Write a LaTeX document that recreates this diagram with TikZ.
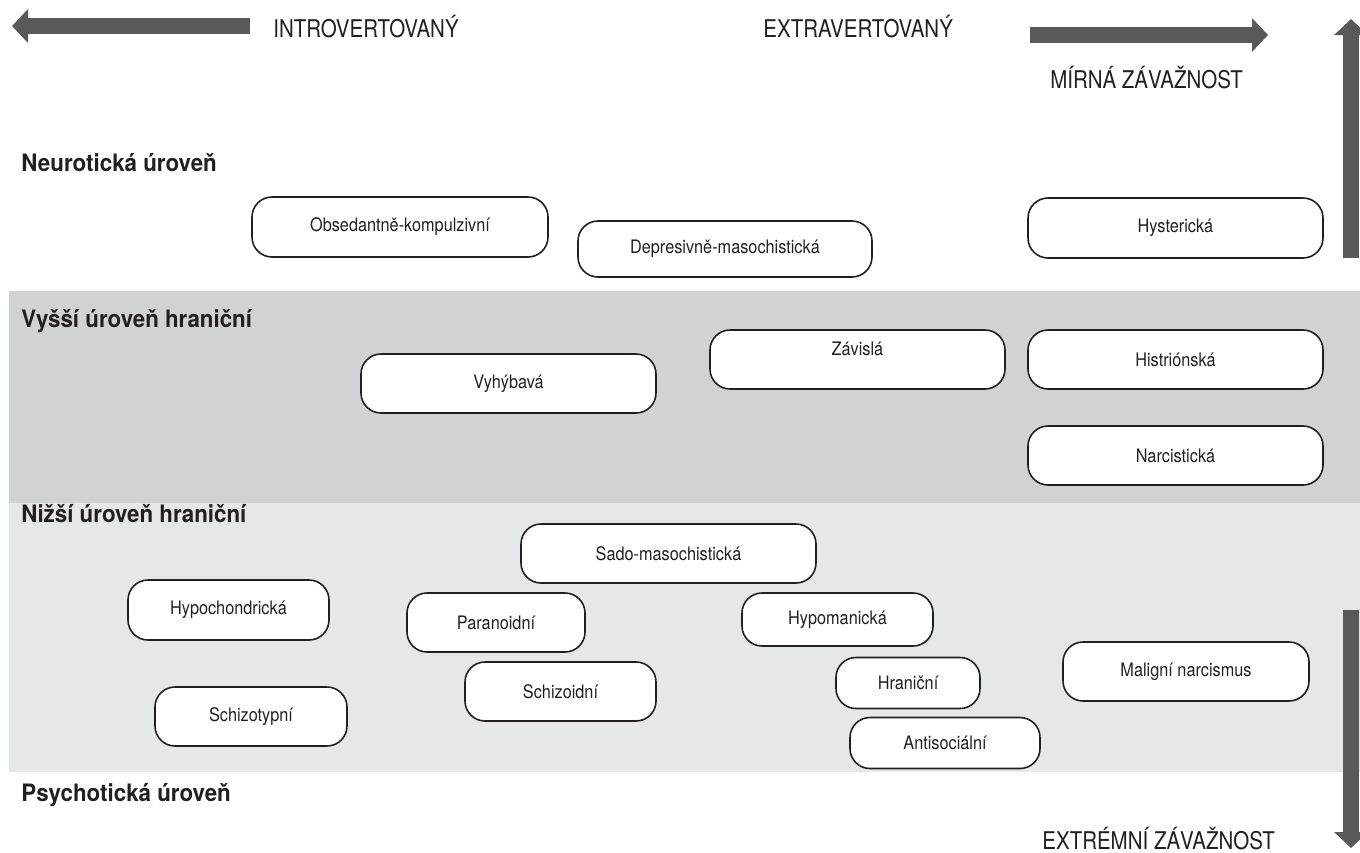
\documentclass[tikz,border=0pt]{standalone}
\usepackage{fontspec}
\setmainfont{TeX Gyre Heros}
\newfontfamily\boxfont[FakeStretch=0.875]{TeX Gyre Heros}
\newfontfamily\axisfont[FakeStretch=0.84]{TeX Gyre Heros}
\newfontfamily\levelfont[FakeStretch=0.93]{TeX Gyre Heros}
\usetikzlibrary{arrows.meta}
\definecolor{upperband}{RGB}{209,210,212}
\definecolor{lowerband}{RGB}{230,231,232}
\definecolor{arrowgray}{RGB}{88,89,91}
\definecolor{inkblack}{RGB}{35,31,32}

\begin{document}
\begin{tikzpicture}[x=0.5pt, y=-0.5pt,
    level/.style={anchor=base west, inner sep=0pt, text=inkblack, font=\levelfont\bfseries\fontsize{12}{14}\selectfont},
    axis/.style={anchor=base west, inner sep=0pt, text=inkblack, font=\axisfont\fontsize{12.2}{14}\selectfont},
    pbox/.style={draw=inkblack, line width=0.8pt, fill=white, rounded corners=10pt, inner sep=0pt, text=inkblack, font=\boxfont\fontsize{9.3}{11}\selectfont},
    bigarrow/.style={arrowgray, line width=8pt, -{Triangle[length=8pt, width=16.5pt]}}]

    \useasboundingbox (0,0) rectangle (1360,852);
    \clip (0,0) rectangle (1360,852);

    % levels
    \fill[upperband] (9,291) rectangle (1360,503);
    \fill[lowerband] (9,503) rectangle (1360,772);

    % axes
    \coordinate (introstart) at (250,26);
    \coordinate (introtip) at (12,26);
    \coordinate (extrastart) at (1030,35);
    \coordinate (extratip) at (1268,35);
    \coordinate (mildstart) at (1351,258);
    \coordinate (mildtip) at (1351,19);
    \coordinate (severestart) at (1351,610);
    \coordinate (severetip) at (1351,848);
    \draw[bigarrow] (introstart) -- (introtip);
    \draw[bigarrow] (extrastart) -- (extratip);
    \draw[bigarrow] (mildstart) -- (mildtip);
    \draw[bigarrow] (severestart) -- (severetip);

    \node[axis] (intro) at (273,37) {INTROVERTOVANÝ};
    \node[axis] (extra) at (763,37) {EXTRAVERTOVANÝ};
    \node[axis] (mild) at (1050,88) {MÍRNÁ ZÁVAŽNOST};
    \node[axis] (severe) at (1042,849) {EXTRÉMNÍ ZÁVAŽNOST};

    \node[level] (neur) at (21,171) {Neurotická úroveň};
    \node[level] (bhigh) at (21,327) {Vyšší úroveň hraniční};
    \node[level] (blow) at (21,522) {Nižší úroveň hraniční};
    \node[level] (psych) at (21,801) {Psychotická úroveň};

    % organizace osobnosti
    \foreach \name/\cx/\cy/\w/\h/\txt in {
        obs/400/227/296/60/Obsedantně-kompulzivní,
        dep/725/249/294/56/Depresivně-masochistická,
        hyst/1175.5/228/295/60/Hysterická,
        vyh/508.5/383.5/295/59/Vyhýbavá,
        hist/1175.5/359.5/295/59/Histriónská,
        narc/1175.5/455.5/295/59/Narcistická,
        sado/668.5/553.5/295/59/Sado-masochistická,
        hypoch/228.5/610/201/60/Hypochondrická,
        para/496/622.5/178/59/Paranoidní,
        hypom/837.5/619.5/191/53/Hypomanická,
        schd/560.5/691.5/191/59/Schizoidní,
        hran/908/683/144/51/Hraniční,
        anti/945/743/190/51/Antisociální,
        malig/1186/671.5/246/59/Maligní narcismus,
        schtyp/251/716.5/192/59/Schizotypní} {
        \node[pbox, minimum width=\w*0.5pt, minimum height=\h*0.5pt] (\name) at (\cx,\cy) {\txt};
    }
    % text sits high in this one
    \node[pbox, minimum width=147.5pt, minimum height=29.5pt] (zav) at (857.5,359.5) {};
    \node[text=inkblack, font=\boxfont\fontsize{9.3}{11}\selectfont, inner sep=0pt] (zavtext) at ([yshift=5.5pt]zav.center) {Závislá};
\end{tikzpicture}
\end{document}
